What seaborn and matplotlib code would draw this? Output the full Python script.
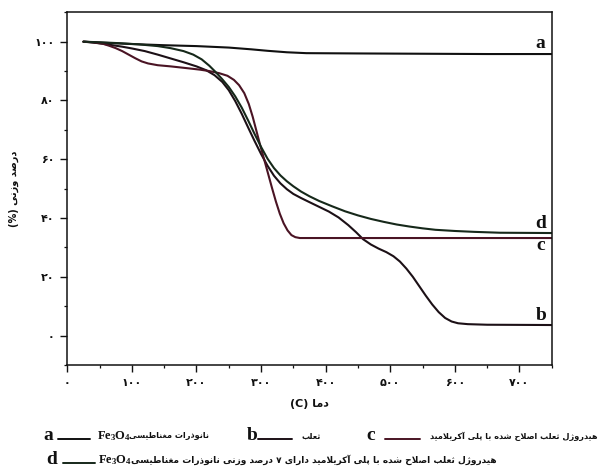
import numpy as np
import pandas as pd
import matplotlib
matplotlib.use('Agg')
import matplotlib.pyplot as plt
import seaborn as sns
from matplotlib.ticker import MultipleLocator
from matplotlib.lines import Line2D
from matplotlib import font_manager as fm
from matplotlib.ft2font import FT2Font

# ---------------- data ----------------
temp_a = [25, 60, 100, 150, 200, 250, 285, 310, 340, 370, 450, 550, 650, 750]
wt_a = [100, 99.6, 99.2, 98.8, 98.5, 98.0, 97.4, 96.9, 96.4, 96.1, 96.0, 95.9, 95.8, 95.8]

temp_b = [25, 40, 55, 70, 85, 100, 120, 140, 160, 180, 200, 215, 228, 240, 250, 260, 270, 280,
          290, 300, 310, 320, 330, 340, 350, 362, 375, 390, 405, 420, 435, 447, 458, 470, 482,
          494, 505, 515, 525, 535, 545, 555, 565, 575, 585, 595, 605, 620, 650, 750]
wt_b = [100, 99.7, 99.3, 98.8, 98.3, 97.7, 96.8, 95.6, 94.3, 93.0, 91.6, 90.3, 88.6, 86.3, 83.5,
        79.8, 75.5, 70.8, 66.2, 61.8, 57.8, 54.4, 51.8, 49.8, 48.2, 46.8, 45.4, 43.8, 42.2, 40.2,
        37.6, 35.2, 32.8, 31.0, 29.6, 28.4, 27.0, 25.2, 22.8, 20.0, 16.8, 13.6, 10.6, 8.0, 6.0,
        4.8, 4.2, 3.9, 3.7, 3.6]

temp_c = [25, 40, 55, 65, 75, 85, 95, 105, 115, 125, 140, 160, 185, 205, 220, 235, 248, 258,
          266, 274, 281, 287, 293, 299, 305, 311, 317, 323, 329, 335, 341, 347, 353, 360, 750]
wt_c = [100, 99.8, 99.3, 98.6, 97.8, 96.8, 95.6, 94.4, 93.3, 92.6, 92.0, 91.6, 91.0, 90.5, 90.0,
        89.3, 88.4, 87.0, 85.2, 82.5, 78.8, 74.5, 69.5, 64.5, 59.8, 55.0, 50.2, 45.6, 41.5, 38.2,
        35.8, 34.2, 33.5, 33.2, 33.2]

temp_d = [25, 50, 80, 110, 140, 160, 180, 195, 208, 220, 230, 240, 250, 260, 270, 280, 290, 300,
          310, 320, 330, 340, 350, 362, 375, 390, 410, 430, 450, 470, 490, 510, 530, 550, 570,
          600, 630, 670, 750]
wt_d = [100, 99.8, 99.5, 99.1, 98.5, 97.8, 96.8, 95.6, 94.0, 91.8, 89.6, 87.2, 84.6, 81.4, 77.6,
        73.2, 68.6, 64.2, 60.2, 57.0, 54.5, 52.5, 50.8, 49.0, 47.4, 45.8, 44.0, 42.3, 40.9, 39.7,
        38.7, 37.8, 37.1, 36.5, 36.0, 35.6, 35.3, 35.0, 34.9]

samples = ['a', 'b', 'c', 'd']
label_y = [99.5, 6.9, 30.5, 38.3]
colors = {'a': '#101010', 'b': '#1c1016', 'c': '#4a1424', 'd': '#16281a'}

x_ticks = [0, 100, 200, 300, 400, 500, 600, 700]
y_ticks = [0, 20, 40, 60, 80, 100]

XLABEL = 'دما (C)'
YLABEL = 'درصد وزنی (%)'
LEG_A = 'نانوذرات مغناطیسی'
LEG_B = 'ثعلب'
LEG_C = 'هیدروژل ثعلب اصلاح شده با پلی آکریلامید'
LEG_D = 'هیدروژل ثعلب اصلاح شده با پلی آکریلامید دارای ۷ درصد وزنی نانوذرات مغناطیسی'

# ---------------- minimal Arabic/Persian shaping ----------------
FORMS = {
    'ا': ('\uFE8D', '\uFE8E', None, None),
    'آ': ('\uFE81', '\uFE82', None, None),
    'ب': ('\uFE8F', '\uFE90', '\uFE91', '\uFE92'),
    'پ': ('\uFB56', '\uFB57', '\uFB58', '\uFB59'),
    'ت': ('\uFE95', '\uFE96', '\uFE97', '\uFE98'),
    'ث': ('\uFE99', '\uFE9A', '\uFE9B', '\uFE9C'),
    'ح': ('\uFEA1', '\uFEA2', '\uFEA3', '\uFEA4'),
    'د': ('\uFEA9', '\uFEAA', None, None),
    'ذ': ('\uFEAB', '\uFEAC', None, None),
    'ر': ('\uFEAD', '\uFEAE', None, None),
    'ز': ('\uFEAF', '\uFEB0', None, None),
    'ژ': ('\uFB8A', '\uFB8B', None, None),
    'س': ('\uFEB1', '\uFEB2', '\uFEB3', '\uFEB4'),
    'ش': ('\uFEB5', '\uFEB6', '\uFEB7', '\uFEB8'),
    'ص': ('\uFEB9', '\uFEBA', '\uFEBB', '\uFEBC'),
    'ط': ('\uFEC1', '\uFEC2', '\uFEC3', '\uFEC4'),
    'ع': ('\uFEC9', '\uFECA', '\uFECB', '\uFECC'),
    'غ': ('\uFECD', '\uFECE', '\uFECF', '\uFED0'),
    'ک': ('\uFB8E', '\uFB8F', '\uFB90', '\uFB91'),
    'ل': ('\uFEDD', '\uFEDE', '\uFEDF', '\uFEE0'),
    'م': ('\uFEE1', '\uFEE2', '\uFEE3', '\uFEE4'),
    'ن': ('\uFEE5', '\uFEE6', '\uFEE7', '\uFEE8'),
    'ه': ('\uFEE9', '\uFEEA', '\uFEEB', '\uFEEC'),
    'و': ('\uFEED', '\uFEEE', None, None),
    'ی': ('\uFBFC', '\uFBFD', '\uFBFE', '\uFBFF'),
}
LAM_ALEF = {'ا': ('\uFEFB', '\uFEFC'), 'آ': ('\uFEF5', '\uFEF6')}
FALLBACK = {'\uFBFC': '\uFEEF', '\uFBFD': '\uFEF0', '\uFBFE': '\uFEF3', '\uFBFF': '\uFEF4',
            '\uFB8E': '\uFED9', '\uFB8F': '\uFEDA', '\uFB90': '\uFEDB', '\uFB91': '\uFEDC',
            '\uFB56': '\uFE8F', '\uFB57': '\uFE90', '\uFB58': '\uFE91', '\uFB59': '\uFE92',
            '\uFB8A': '\uFEAF', '\uFB8B': '\uFEB0'}


def norm(s):
    return s.replace('\u064A', '\u06CC').replace('\u0643', '\u06A9')


def shape_word(w):
    units = []
    i = 0
    while i < len(w):
        ch = w[i]
        if ch == 'ل' and i + 1 < len(w) and w[i + 1] in LAM_ALEF:
            iso, fin = LAM_ALEF[w[i + 1]]
            units.append((iso, fin, None, None))
            i += 2
        elif ch in FORMS:
            units.append(FORMS[ch])
            i += 1
        else:
            units.append((ch, None, None, None))
            i += 1
    res = []
    for k, u in enumerate(units):
        prev = units[k - 1] if k > 0 else None
        nxt = units[k + 1] if k + 1 < len(units) else None
        jp = prev is not None and prev[2] is not None
        jn = u[2] is not None and nxt is not None and nxt[1] is not None
        if jp and jn:
            g = u[3]
        elif jp:
            g = u[1]
        elif jn:
            g = u[2]
        else:
            g = u[0]
        res.append(g)
    return ''.join(reversed(res))


def rtl(s):
    s = norm(s)
    out = []
    for w in s.split(' '):
        if any(ch in FORMS for ch in w):
            out.append(shape_word(w))
        else:
            out.append(w)
    return ' '.join(reversed(out))


FA_DIGITS = '۰۱۲۳۴۵۶۷۸۹'


def fa(n):
    return ''.join(FA_DIGITS[int(c)] for c in str(int(n)))


def font_ok(weight, text):
    try:
        path = fm.findfont(fm.FontProperties(family='DejaVu Sans', weight=weight),
                           fallback_to_default=False)
        f = FT2Font(path)
        return all(f.get_char_index(ord(c)) != 0 for c in text if not c.isspace())
    except Exception:
        return False


def fix(text, weight):
    try:
        path = fm.findfont(fm.FontProperties(family='DejaVu Sans', weight=weight),
                           fallback_to_default=False)
        f = FT2Font(path)
    except Exception:
        return text
    out = []
    for c in text:
        if not c.isspace() and f.get_char_index(ord(c)) == 0 and c in FALLBACK:
            out.append(FALLBACK[c])
        else:
            out.append(c)
    return ''.join(out)


shaped = {k: rtl(v) for k, v in dict(x=XLABEL, y=YLABEL, a=LEG_A, b=LEG_B, c=LEG_C, d=LEG_D).items()}
AR_W = 'bold' if font_ok('bold', ''.join(shaped.values())) else 'normal'
DIG_W = 'bold' if font_ok('bold', FA_DIGITS) else 'normal'
shaped = {k: fix(v, AR_W) for k, v in shaped.items()}

# ---------------- style ----------------
sns.set_style('ticks')
plt.rcParams['font.family'] = ['DejaVu Sans']
plt.rcParams['mathtext.fontset'] = 'custom'
plt.rcParams['mathtext.bf'] = 'Liberation Serif:bold'
plt.rcParams['mathtext.rm'] = 'Liberation Serif:bold'

W, H = 606, 475
fig = plt.figure(figsize=(W / 100, H / 100), dpi=100)
fig.patch.set_facecolor('white')
L, R, T, B = 67.3, 551.7, 12.3, 365.0
ax = fig.add_axes([L / W, 1 - B / H, (R - L) / W, (B - T) / H])
ax.set_facecolor('white')

df = pd.concat([
    pd.DataFrame({'T': temp_a, 'W': wt_a, 'sample': 'a'}),
    pd.DataFrame({'T': temp_b, 'W': wt_b, 'sample': 'b'}),
    pd.DataFrame({'T': temp_c, 'W': wt_c, 'sample': 'c'}),
    pd.DataFrame({'T': temp_d, 'W': wt_d, 'sample': 'd'}),
], ignore_index=True)

sns.lineplot(data=df, x='T', y='W', hue='sample', palette=colors, hue_order=samples,
             sort=False, estimator=None, legend=False, linewidth=1.5, ax=ax)

ax.set_xlim(0, 750)
ax.set_ylim(-10, 110)
ax.set_xticks(x_ticks)
ax.set_yticks(y_ticks)
ax.xaxis.set_minor_locator(MultipleLocator(50))
ax.yaxis.set_minor_locator(MultipleLocator(10))
ax.set_xticklabels([fa(v) for v in x_ticks], fontsize=8, fontweight=DIG_W)
ax.set_yticklabels([fa(v) for v in y_ticks], fontsize=8, fontweight=DIG_W)
ax.tick_params(which='major', direction='out', length=5, width=1.0, pad=4, colors='#111111')
ax.tick_params(which='minor', direction='out', length=2.5, width=0.9, colors='#111111')
for sp in ax.spines.values():
    sp.set_visible(True)
    sp.set_linewidth(1.1)
    sp.set_color('#111111')

ax.set_xlabel(shaped['x'], fontsize=8, fontweight=AR_W, color='#111111')
ax.set_ylabel(shaped['y'], fontsize=7, fontweight=AR_W, color='#111111')
ax.xaxis.set_label_coords(0.5, -0.095)
ax.yaxis.set_label_coords(-0.100, 0.5)

for s, ly in zip(samples, label_y):
    ax.text(733, ly, s, fontsize=14, fontweight='bold', family='Liberation Serif',
            ha='center', va='center', color='#111111')

# ---------------- legend (drawn in figure pixels) ----------------
def fx(x):
    return x / W


def fy(y):
    return 1 - y / H


row1, row2 = 436, 460
legend_rows = [
    ('a', 48, 58, 90, row1),
    ('b', 252, 258, 292, row1),
    ('c', 371, 385, 420, row1),
    ('d', 52, 63, 95, row2),
]
for s, lx, x0, x1, ry in legend_rows:
    fig.text(fx(lx), fy(ry), s, fontsize=14, fontweight='bold', family='Liberation Serif',
             ha='center', va='center', color='#111111')
    fig.add_artist(Line2D([fx(x0), fx(x1)], [fy(ry + 3), fy(ry + 3)], transform=fig.transFigure,
                          color=colors[s], linewidth=1.4))

fe_kw = dict(fontsize=9, ha='left', va='center', color='#111111')
fig.text(fx(97), fy(row1), r'$\mathbf{Fe_3O_4}$', **fe_kw)
fig.text(fx(98), fy(row2), r'$\mathbf{Fe_3O_4}$', **fe_kw)

ar_kw = dict(fontweight=AR_W, va='center', color='#111111')


def fit(t, target):
    fig.canvas.draw()
    w = t.get_window_extent().width
    f0 = t.get_fontsize()
    if w > 0:
        t.set_fontsize(f0 * target / w)
    return t.get_fontsize()


td = fig.text(fx(131), fy(row2), shaped['d'], fontsize=8, ha='left', **ar_kw)
fit(td, 366.0)
tc = fig.text(fx(598), fy(row1), shaped['c'], fontsize=8, ha='right', **ar_kw)
fs_c = fit(tc, 166.0)
fig.text(fx(129), fy(row1), shaped['a'], fontsize=fs_c, ha='left', **ar_kw)
fig.text(fx(301), fy(row1), shaped['b'], fontsize=fs_c, ha='left', **ar_kw)

fig.savefig('out.png', dpi=100, facecolor='white')
